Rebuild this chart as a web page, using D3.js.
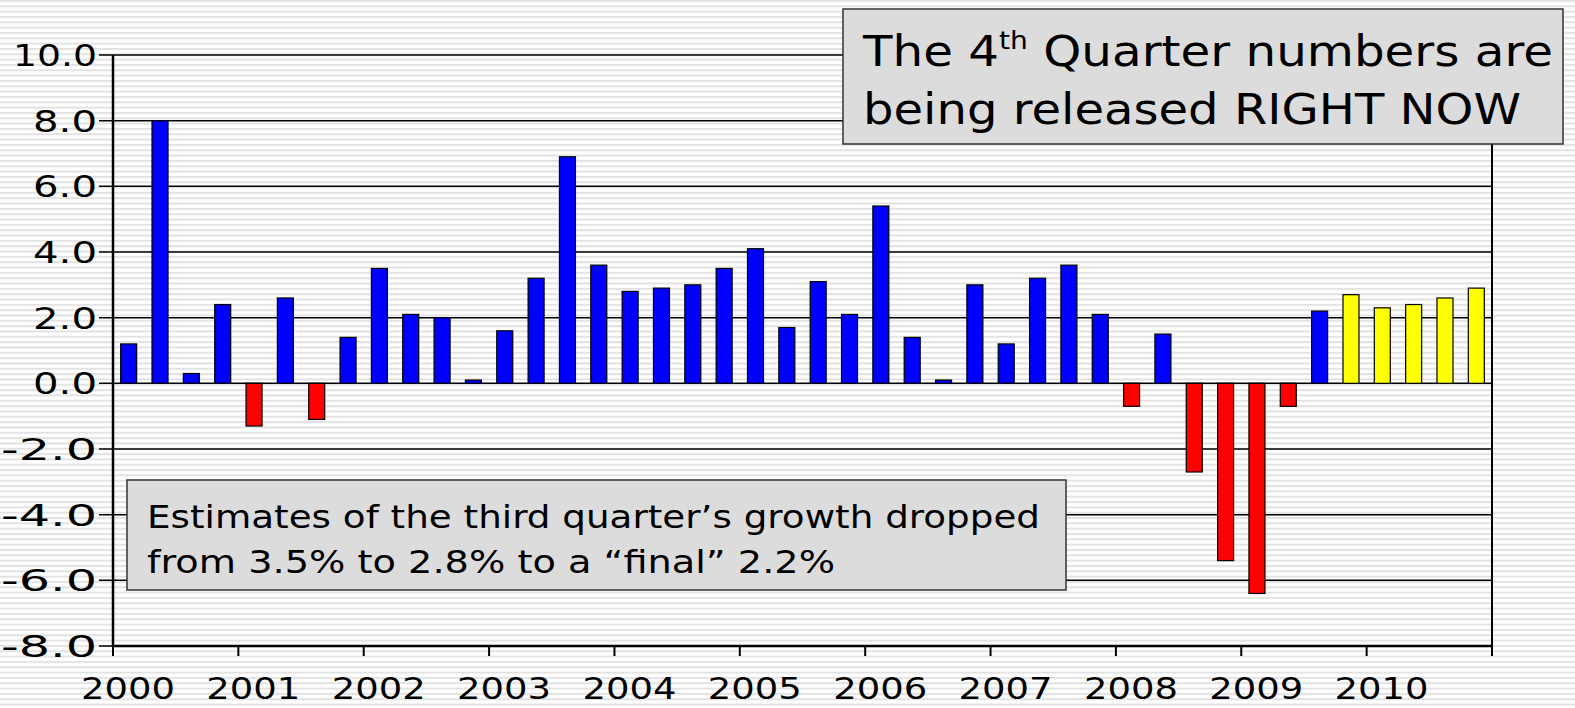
<!DOCTYPE html>
<html><head><meta charset="utf-8">
<script src="https://cdn.jsdelivr.net/npm/d3@7"></script>
<style>
body{margin:0;background:#fff;}
svg{font-family:"DejaVu Sans",Verdana,sans-serif;}
</style></head><body>
<svg id="chart" width="1575" height="708"></svg>
<script>
// quarterly GDP growth, 2000 Q1 .. 2010 Q4
var years = ["2000","2001","2002","2003","2004","2005","2006","2007","2008","2009","2010"];
var growth = [1.2, 8.0, 0.3, 2.4,  -1.3, 2.6, -1.1, 1.4,  3.5, 2.1, 2.0, 0.1,  1.6, 3.2, 6.9, 3.6,
  2.8, 2.9, 3.0, 3.5,  4.1, 1.7, 3.1, 2.1,  5.4, 1.4, 0.1, 3.0,  1.2, 3.2, 3.6, 2.1,
  -0.7, 1.5, -2.7, -5.4,  -6.4, -0.7, 2.2, 2.7,  2.3, 2.4, 2.6, 2.9];
var forecastFrom = 39; // index of first yellow (projected) bar
var yTicks = [10, 8, 6, 4, 2, 0, -2, -4, -6, -8];

var svg = d3.select("#chart");

// striped background
var defs = svg.append("defs");
var pat = defs.append("pattern").attr("id", "stripes").attr("patternUnits", "userSpaceOnUse")
  .attr("width", 10).attr("height", 5.33);
pat.append("rect").attr("width", 10).attr("height", 5.33).attr("fill", "#fff");
pat.append("rect").attr("y", 0).attr("width", 10).attr("height", 2).attr("fill", "#e2e2e2");
svg.append("rect").attr("width", 1575).attr("height", 708).attr("fill", "url(#stripes)");

var pLeft = 113, pRight = 1492, pTop = 55, pBottom = 646;
var x = d3.scaleLinear().domain([0, 44]).range([pLeft, pRight]);
var y = d3.scaleLinear().domain([-8, 10]).range([pBottom, pTop]);

// gridlines
svg.append("g").selectAll("line").data(yTicks).join("line")
  .attr("x1", pLeft - 14).attr("x2", pRight).attr("y1", d => y(d)).attr("y2", d => y(d))
  .attr("stroke", "#000").attr("stroke-width", 1.5);

// y labels
svg.append("g").selectAll("text").data(yTicks).join("text")
  .attr("x", 97).attr("y", d => y(d) + 11).attr("text-anchor", "end")
  .attr("font-size", 31).attr("textLength", d => d < 0 ? 96 : (d >= 10 ? 84 : 64))
  .attr("lengthAdjust", "spacingAndGlyphs").text(d => d.toFixed(1));

// bars
var bw = 16;
svg.append("g").selectAll("rect").data(growth).join("rect")
  .attr("x", (d, i) => x(i + 0.5) - bw / 2)
  .attr("width", bw)
  .attr("y", d => y(Math.max(0, d)))
  .attr("height", d => Math.abs(y(d) - y(0)))
  .attr("fill", (d, i) => i >= forecastFrom ? "#ffff00" : (d < 0 ? "#ff0000" : "#0000ff"))
  .attr("stroke", "#000").attr("stroke-width", 1.2);

// axes frame
svg.append("line").attr("x1", pLeft).attr("x2", pLeft).attr("y1", pTop).attr("y2", pBottom)
  .attr("stroke", "#000").attr("stroke-width", 2.5);
svg.append("line").attr("x1", pRight).attr("x2", pRight).attr("y1", pTop).attr("y2", pBottom + 10)
  .attr("stroke", "#000").attr("stroke-width", 2);
svg.append("line").attr("x1", pLeft).attr("x2", pRight).attr("y1", pBottom).attr("y2", pBottom)
  .attr("stroke", "#000").attr("stroke-width", 2.5);

// year ticks & labels
svg.append("g").selectAll("line").data(years).join("line")
  .attr("x1", (d, i) => x(i * 4)).attr("x2", (d, i) => x(i * 4))
  .attr("y1", pBottom).attr("y2", pBottom + 10).attr("stroke", "#000").attr("stroke-width", 2);
svg.append("g").selectAll("text").data(years).join("text")
  .attr("x", (d, i) => x(i * 4) + 15).attr("y", 699).attr("text-anchor", "middle")
  .attr("font-size", 31).attr("textLength", 94).attr("lengthAdjust", "spacingAndGlyphs")
  .text(d => d);

// callout boxes
var b1 = svg.append("g");
b1.append("rect").attr("x", 843).attr("y", 9).attr("width", 720).attr("height", 135)
  .attr("fill", "#dcdcdc").attr("stroke", "#333").attr("stroke-width", 1.5);
var t1 = b1.append("text").attr("x", 863).attr("y", 66).attr("font-size", 43)
  .attr("textLength", 690).attr("lengthAdjust", "spacingAndGlyphs");
t1.append("tspan").text("The 4");
t1.append("tspan").attr("font-size", 25).attr("dy", -17).text("th");
t1.append("tspan").attr("dy", 17).text(" Quarter numbers are");
b1.append("text").attr("x", 863).attr("y", 124).attr("font-size", 43)
  .attr("textLength", 658).attr("lengthAdjust", "spacingAndGlyphs").text("being released RIGHT NOW");

var b2 = svg.append("g");
b2.append("rect").attr("x", 127).attr("y", 480).attr("width", 939).attr("height", 110)
  .attr("fill", "#dcdcdc").attr("stroke", "#333").attr("stroke-width", 1.5);
b2.append("text").attr("x", 147).attr("y", 528).attr("font-size", 32)
  .attr("textLength", 893).attr("lengthAdjust", "spacingAndGlyphs")
  .text("Estimates of the third quarter\u2019s growth dropped");
b2.append("text").attr("x", 147).attr("y", 573).attr("font-size", 32)
  .attr("textLength", 688).attr("lengthAdjust", "spacingAndGlyphs")
  .text("from 3.5% to 2.8% to a \u201cfinal\u201d 2.2%");
</script>
</body></html>
